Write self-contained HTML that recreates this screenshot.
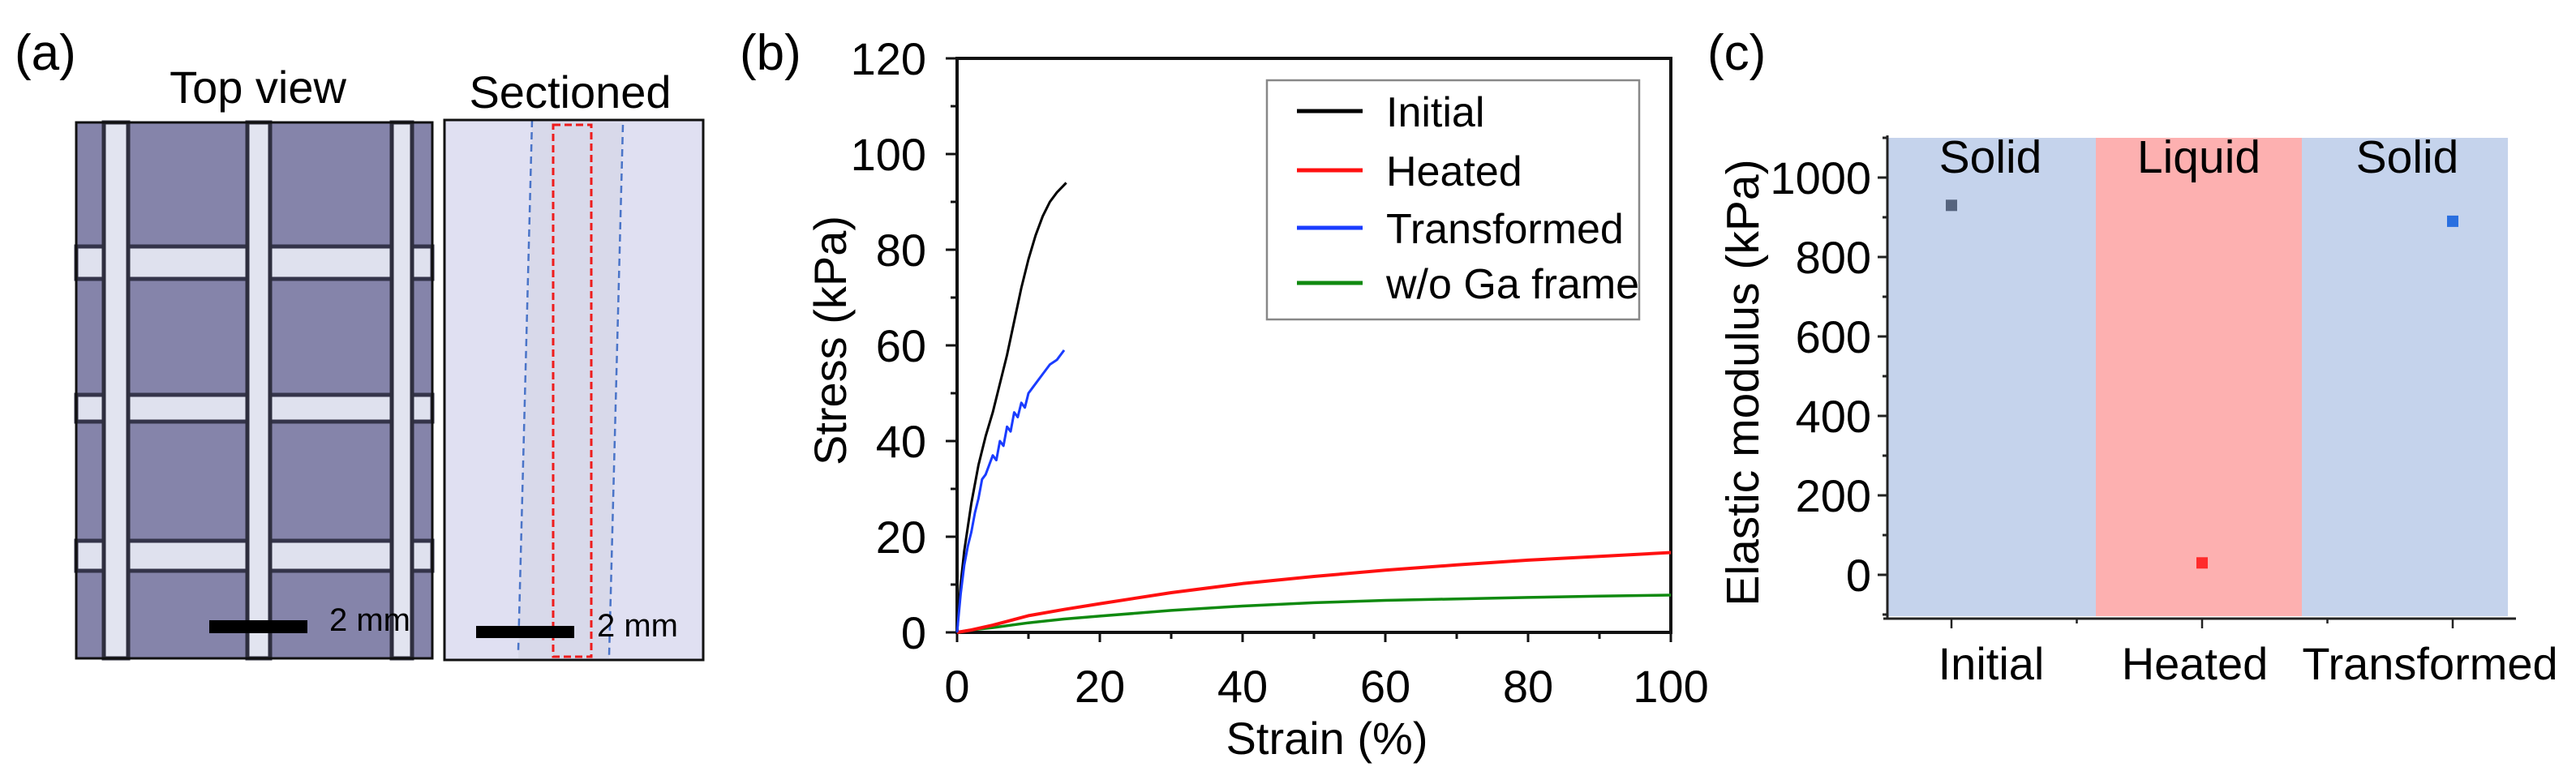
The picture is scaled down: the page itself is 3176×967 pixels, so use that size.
<!DOCTYPE html>
<html><head><meta charset="utf-8"><style>
html,body{margin:0;padding:0;background:#fff;}
svg{display:block;font-family:"Liberation Sans",Arial,sans-serif;}
</style></head><body>
<svg id="fig" width="3176" height="967" viewBox="0 0 3176 967" xmlns="http://www.w3.org/2000/svg">
<!-- Panel a -->
<g>
<text x="18" y="86" font-size="62">(a)</text>
<text x="318" y="127" font-size="56" text-anchor="middle">Top view</text>
<text x="703" y="133" font-size="56" text-anchor="middle">Sectioned</text>
<g>
<rect x="94" y="151" width="439" height="661" fill="#8584aa"/>
<g fill="#dfe1ee" stroke="#34344a" stroke-width="5">
<rect x="94" y="304" width="439" height="40"/>
<rect x="94" y="487" width="439" height="33"/>
<rect x="94" y="667" width="439" height="37"/>
</g>
<g fill="#e2e4f0" stroke="#2e2e3e" stroke-width="5">
<rect x="128" y="151" width="30" height="661"/>
<rect x="305" y="151" width="28" height="661"/>
<rect x="483" y="151" width="25" height="661"/>
</g>
<rect x="94" y="151" width="439" height="661" fill="none" stroke="#111" stroke-width="3"/>
<rect x="258" y="765" width="121" height="16" fill="#000"/>
<text x="406" y="778" font-size="40">2 mm</text>
</g>
<g>
<rect x="548" y="148" width="319" height="666" fill="#e0e0f2"/>
<polygon points="656,150 768,152 751,812 639,812" fill="#d8d9ea"/>
<rect x="682" y="154" width="47" height="656" fill="none" stroke="#ee1c1c" stroke-width="3" stroke-dasharray="9,5"/>
<line x1="656" y1="148" x2="639" y2="802" stroke="#4a74c8" stroke-width="2.5" stroke-dasharray="9,6"/>
<line x1="768" y1="154" x2="751" y2="809" stroke="#4a74c8" stroke-width="2.5" stroke-dasharray="9,6"/>
<rect x="548" y="148" width="319" height="666" fill="none" stroke="#111" stroke-width="3"/>
<rect x="587" y="772" width="121" height="15" fill="#000"/>
<text x="736" y="785" font-size="40">2 mm</text>
</g>
</g>
<!-- Panel b -->
<g id="pb">
<text x="912" y="86" font-size="62">(b)</text>
</g>
<!-- Panel c -->
<g id="pc">
<text x="2105" y="86" font-size="62">(c)</text>
</g>
</svg>
<script>
const NS="http://www.w3.org/2000/svg";
// Panel b data
const xTicksB=[0,20,40,60,80,100];
const yTicksB=[0,20,40,60,80,100,120];
const initialX=[0,0.5,1,2,3,4,5,6,7,8,9,10,11,12,13,14,15.3];
const initialY=[0,10,17,27,35,41,46,52,58,65,72,78,83,87,90,92,94];
const transformedX=[0,0.5,1,1.5,2,2.5,3,3.5,4,4.5,5,5.5,6,6.5,7,7.5,8,8.5,9,9.5,10,11,12,13,14,15];
const transformedY=[0,8,14,18,21,25,28,32,33,35,37,36,40,39,43,42,46,45,48,47,50,52,54,56,57,59];
const heatedX=[0,2,5,7,10,15,20,30,40,50,60,70,80,90,100];
const heatedY=[0,0.5,1.5,2.3,3.5,4.8,6,8.3,10.2,11.7,13,14.1,15.1,15.9,16.7];
const frameX=[0,2,5,10,15,20,30,40,50,60,70,80,90,100];
const frameY=[0,0.5,1,2,2.8,3.4,4.6,5.5,6.2,6.7,7.0,7.3,7.6,7.8];
const legendNames=["Initial","Heated","Transformed","w/o Ga frame"];
const legendColors=["#000000","#ff1010","#1a3cff","#108a10"];
// Panel c data
const categories=["Initial","Heated","Transformed"];
const modulusValues=[930,30,890];
const yTicksC=[0,200,400,600,800,1000];
const phaseLabels=["Solid","Liquid","Solid"];

function el(tag,attrs,parent){const e=document.createElementNS(NS,tag);for(const k in attrs)e.setAttribute(k,attrs[k]);parent.appendChild(e);return e;}
const pb=document.getElementById('pb');
const bx0=1180,bx1=2060,by0=780,by1=72;
const sxB=v=>bx0+(v-0)/(100-0)*(bx1-bx0);
const syB=v=>by0-(v-0)/(120-0)*(by0-by1);
let frame=el('rect',{x:bx0,y:by1,width:bx1-bx0,height:by0-by1,fill:'none',stroke:'#111','stroke-width':4},pb);


for(let v=0;v<=100;v+=10){const major=v%20===0;const t=el('line',{x1:sxB(v),x2:sxB(v),y1:by0,y2:by0+(major?12:8),stroke:'#111','stroke-width':3},pb);

}
for(let v=0;v<=120;v+=10){const major=v%20===0;const t=el('line',{x1:bx0-(major?14:8),x2:bx0,y1:syB(v),y2:syB(v),stroke:'#111','stroke-width':3},pb);

}
xTicksB.forEach(v=>{const t=el('text',{x:sxB(v),y:866,'font-size':56,'text-anchor':'middle'},pb);t.textContent=v;

});
yTicksB.forEach(v=>{const t=el('text',{x:1142,y:syB(v)+20,'font-size':56,'text-anchor':'end'},pb);t.textContent=v;

});
let xt=el('text',{x:1636,y:930,'font-size':56,'text-anchor':'middle'},pb);xt.textContent='Strain (%)';


let yt=el('text',{x:0,y:0,'font-size':56,'text-anchor':'middle',transform:'translate(1043,420) rotate(-90)'},pb);yt.textContent='Stress (kPa)';


function series(xs,ys,color,name,w){const d=xs.map((x,i)=>(i?'L':'M')+sxB(x).toFixed(1)+','+syB(ys[i]).toFixed(1)).join('');
const p=el('path',{d:d,fill:'none',stroke:color,'stroke-width':w,'stroke-linejoin':'round'},pb);

}
series(frameX,frameY,legendColors[3],'series-wo-ga-frame',3.5);
series(heatedX,heatedY,legendColors[1],'series-heated',4);
series(initialX,initialY,legendColors[0],'series-initial',3);
series(transformedX,transformedY,legendColors[2],'series-transformed',3);
const lg=el('g',{},pb);


el('rect',{x:1562,y:99,width:459,height:295,fill:'#fff',stroke:'#888','stroke-width':2.5},lg);
const rowsY=[137,210,281,349];
legendNames.forEach((n,i)=>{const l=el('line',{x1:1599,x2:1680,y1:rowsY[i],y2:rowsY[i],stroke:legendColors[i],'stroke-width':5},lg);


const t=el('text',{x:1709,y:rowsY[i]+19,'font-size':52},lg);t.textContent=n;

});

// Panel c
const pc=document.getElementById('pc');
const cx0=2327,cy0=763,cy1=170,cRight=3102;
const syC=v=>219+(1000-v)*0.49;
const catX=i=>2406+i*309;
const bands=[[2327,2584,'#c5d3ec'],[2584,2838,'#fdb0b0'],[2838,3092,'#c5d3ec']];
bands.forEach(b=>{const r=el('rect',{x:b[0],y:cy1,width:b[1]-b[0],height:760-cy1,fill:b[2]},pc);

});
const phaseX=[2454,2711,2968];
phaseLabels.forEach((p,i)=>{const t=el('text',{x:phaseX[i],y:213,'font-size':57,'text-anchor':'middle'},pc);t.textContent=p;

});
let ax=el('line',{x1:cx0,x2:cx0,y1:cy1-3,y2:cy0,stroke:'#222','stroke-width':3},pc);


let bx=el('line',{x1:cx0-5,x2:cRight,y1:cy0,y2:cy0,stroke:'#222','stroke-width':3},pc);


for(let v=-100;v<=1100;v+=100){const major=v%200===0;const t=el('line',{x1:cx0-(major?12:6),x2:cx0,y1:syC(v),y2:syC(v),stroke:'#222','stroke-width':3},pc);

}
yTicksC.forEach(v=>{const t=el('text',{x:2307,y:syC(v)+20,'font-size':56,'text-anchor':'end'},pc);t.textContent=v;

});
for(let i=0;i<5;i++){const x=2406+i*154.5;const t=el('line',{x1:x,x2:x,y1:cy0,y2:cy0+(i%2===0?12:6),stroke:'#222','stroke-width':2.5},pc);

}
const labelX=[2455,2706,2996];
categories.forEach((c,i)=>{const t=el('text',{x:labelX[i],y:838,'font-size':56,'text-anchor':'middle'},pc);t.textContent=c;

});
const markerColors=['#56647e','#ff2a2a','#2a6fe0'];
modulusValues.forEach((v,i)=>{const r=el('rect',{x:catX(i)-7,y:syC(v)-7,width:14,height:14,fill:markerColors[i]},pc);

});
let yc=el('text',{x:0,y:0,'font-size':57,'text-anchor':'middle',transform:'translate(2168,472) rotate(-90)'},pc);yc.textContent='Elastic modulus (kPa)';


</script>
</body></html>
